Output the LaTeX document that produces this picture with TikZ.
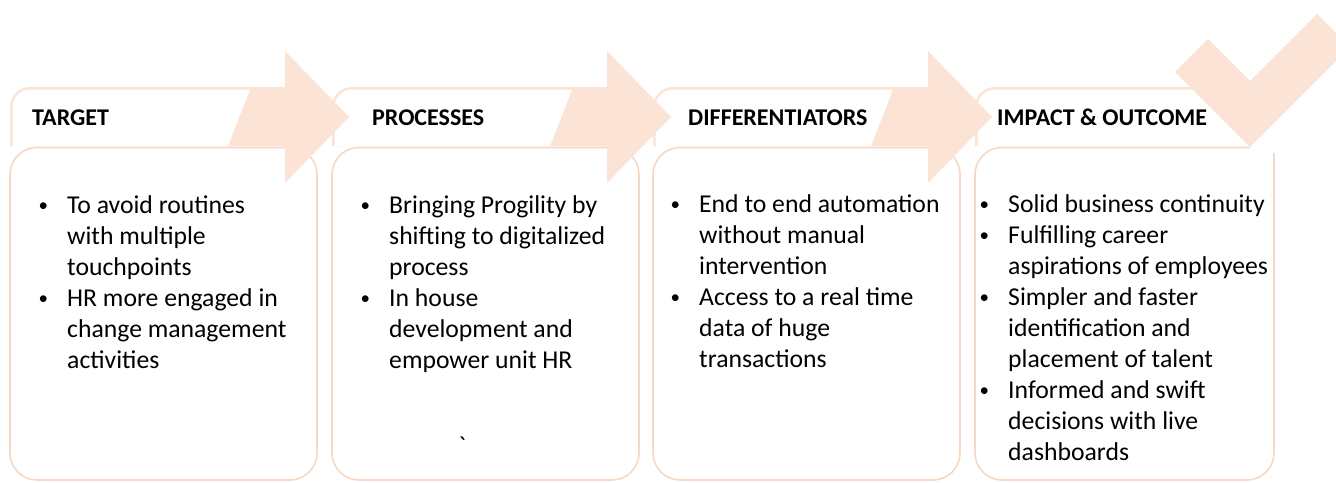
\documentclass[tikz,border=0pt]{standalone}
\usepackage{fontspec}
\newfontfamily\bodyfont{Carlito}
\definecolor{peach}{HTML}{FBE4D5}
\definecolor{peachline}{HTML}{F6D8C5}
\tikzset{
  arrowfill/.style={fill=peach, draw=none},
  titlefill/.style={fill=white, draw=none},
  panel/.style={fill=white, draw=peachline, line width=1.6pt, rounded corners=27pt},
  panelline/.style={draw=peachline, line width=1.6pt, rounded corners=27pt},
  heading/.style={anchor=base west, inner sep=0pt, font=\bodyfont\bfseries\fontsize{24}{29}\selectfont},
  bullets/.style={anchor=base west, inner sep=0pt, font=\bodyfont\fontsize{25.7}{31}\selectfont},
}
% a small bullet sitting at mid x-height
\newcommand\dotmark{\hspace{3pt}\raisebox{1.2pt}{\fontsize{19}{19}\selectfont\textbullet}}
% one bulleted paragraph with a hanging indent
\newcommand\bitem[1]{\par\hangindent=31.5pt\hangafter=1\noindent\makebox[31.5pt][l]{\dotmark}#1\par}
% a list whose baseline is its first line
\newcommand\blist[1]{\vtop{\hsize=400pt\parindent=0pt\parskip=0pt #1}}

\begin{document}
\begin{tikzpicture}[x=1pt,y=-1pt]
\useasboundingbox (0,0) rectangle (1336,482);
\fill[white] (0,0) rectangle (1336,482);

% ---- stage 4: panel, header band and check mark
\fill[white, rounded corners=27pt] (975,147.5) rectangle (1274,480);
\draw[panelline] (1250,147.5) -- (975,147.5) -- (975,480) -- (1274,480) -- (1274,153);
\fill[arrowfill] (975,146) -- (975,107) .. controls (975,96) and (984,87) .. (995,87)
  -- (1262,87) -- (1262,146) -- cycle;
\fill[titlefill] (977.5,146) -- (977.5,107) .. controls (977.5,97.5) and (985.5,89.5) .. (995,89.5)
  -- (1262,89.5) -- (1262,146) -- cycle;
\begin{scope}
  \clip (0,0) rectangle (1336,482);
  \fill[arrowfill] (1175,72) -- (1250,147) -- (1350,47) -- (1317,14) -- (1250,81) -- (1208,39) -- cycle;
\end{scope}

% ---- stages 3, 2, 1: panel, arrow and header band
\foreach \x in {653,332,10} {
  \draw[panel] (\x,147.5) rectangle (\x+307,480);
  \fill[arrowfill] (\x,146) -- (\x,107) .. controls (\x,96) and (\x+9,87) .. (\x+20,87)
    -- (\x+275,87) -- (\x+275,51) -- (\x+339,117) -- (\x+275,183) -- (\x+275,146) -- cycle;
  \fill[titlefill] (\x+2.5,146) -- (\x+2.5,107) .. controls (\x+2.5,97.5) and (\x+10.5,89.5) .. (\x+20,89.5)
    -- (\x+240,89.5) -- (\x+218,146) -- cycle;
}

% ---- headings
\node[heading] (h1) at (32,125.5) {TARGET};
\node[heading] (h2) at (372,125.5) {PROCESSES};
\node[heading] (h3) at (688,125.5) {DIFFERENTIATORS};
\node[heading] (h4) at (997,125.5) {IMPACT \& OUTCOME};

% ---- bullet lists
\node[bullets] (l1) at (35.5,213) {\blist{%
  \bitem{To avoid routines\\with multiple\\touchpoints}%
  \bitem{HR more engaged in\\change management\\activities}}};
\node[bullets] (l2) at (357.5,213) {\blist{%
  \bitem{Bringing Progility by\\shifting to digitalized\\process}%
  \bitem{In house\\development and\\empower unit HR}}};
\node[bullets] (l3) at (667.5,212) {\blist{%
  \bitem{End to end automation\\without manual\\intervention}%
  \bitem{Access to a real time\\data of huge\\transactions}}};
\node[bullets] (l4) at (976.5,212) {\blist{%
  \bitem{Solid business continuity}%
  \bitem{Fulfilling career\\aspirations of employees}%
  \bitem{Simpler and faster\\identification and\\placement of talent}%
  \bitem{Informed and swift\\decisions with live\\dashboards}}};

\node[bullets, anchor=base] (mark) at (462,454) {`};
\end{tikzpicture}
\end{document}
